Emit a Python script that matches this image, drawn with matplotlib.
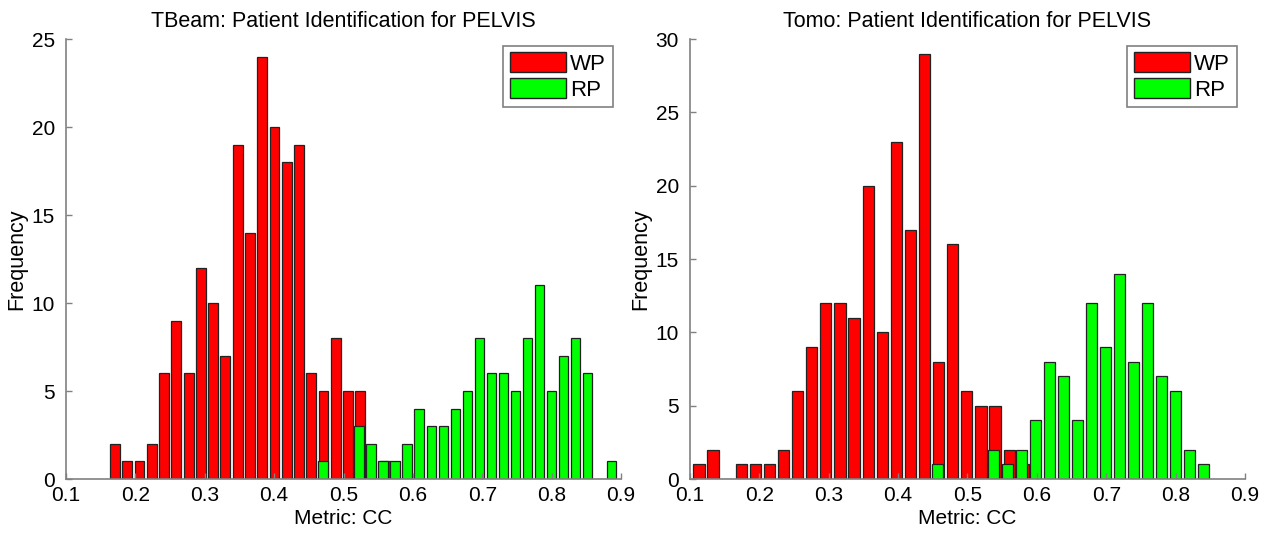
import matplotlib.pyplot as plt
from matplotlib.patches import Patch

plt.rcParams['font.family'] = ['Liberation Sans', 'DejaVu Sans']

# === 1. Histogram data ===

# TBeam
tb_wp_x = [0.1706, 0.1883, 0.2060, 0.2236, 0.2413, 0.2590, 0.2767, 0.2944,
           0.3120, 0.3297, 0.3474, 0.3651, 0.3828, 0.4004, 0.4181, 0.4358,
           0.4535, 0.4712, 0.4888, 0.5065, 0.5242, 0.5419, 0.5596]
tb_wp_n = [2, 1, 1, 2, 6, 9, 6, 12, 10, 7, 19, 14, 24, 20, 18, 19,
           6, 5, 8, 5, 5, 0, 1]
tb_rp_x = [0.4706, 0.4879, 0.5053, 0.5226, 0.5399, 0.5573, 0.5746, 0.5919,
           0.6092, 0.6266, 0.6439, 0.6612, 0.6786, 0.6959, 0.7132, 0.7306,
           0.7479, 0.7652, 0.7825, 0.7999, 0.8172, 0.8345, 0.8519, 0.8692,
           0.8865]
tb_rp_n = [1, 0, 0, 3, 2, 1, 1, 2, 4, 3, 3, 4, 5, 8, 6, 6,
           5, 8, 11, 5, 7, 8, 6, 0, 1]

# Tomo
to_wp_x = [0.1128, 0.1331, 0.1535, 0.1738, 0.1941, 0.2145, 0.2348, 0.2551,
           0.2754, 0.2958, 0.3161, 0.3364, 0.3568, 0.3771, 0.3974, 0.4178,
           0.4381, 0.4584, 0.4787, 0.4991, 0.5194, 0.5397, 0.5601, 0.5804]
to_wp_n = [1, 2, 0, 1, 1, 1, 2, 6, 9, 12, 12, 11, 20, 10, 23, 17,
           29, 8, 16, 6, 5, 5, 2, 1]
to_rp_x = [0.4569, 0.4771, 0.4973, 0.5174, 0.5376, 0.5578, 0.5780, 0.5982,
           0.6183, 0.6385, 0.6587, 0.6789, 0.6991, 0.7192, 0.7394, 0.7596,
           0.7798, 0.8000, 0.8201, 0.8403]
to_rp_n = [1, 0, 0, 0, 2, 1, 2, 4, 8, 7, 4, 12, 9, 14, 8, 12,
           7, 6, 2, 1]

panels = [
    ("TBeam: Patient Identification for PELVIS", tb_wp_x, tb_wp_n, tb_rp_x, tb_rp_n, 25),
    ("Tomo: Patient Identification for PELVIS", to_wp_x, to_wp_n, to_rp_x, to_rp_n, 30),
]

# === 2. Plotting ===
fig = plt.figure(figsize=(12.7, 5.33), dpi=100)
axes_pos = [[0.052, 0.1013, 0.437, 0.8255], [0.5433, 0.1013, 0.437, 0.8255]]

for pos, (title, wx, wn, rx, rn, ymax) in zip(axes_pos, panels):
    ax = fig.add_axes(pos)
    w_wp = 0.8 * (wx[1] - wx[0])
    w_rp = 0.8 * (rx[1] - rx[0])
    ax.bar(wx, wn, width=w_wp, color='#ff0000', edgecolor='#222222', linewidth=0.9)
    ax.bar(rx, rn, width=w_rp, color='#00ff00', edgecolor='#222222', linewidth=0.9)

    ax.set_xlim(0.1, 0.9)
    ax.set_ylim(0, ymax)
    ax.set_xticks([0.1, 0.2, 0.3, 0.4, 0.5, 0.6, 0.7, 0.8, 0.9])
    ax.set_xticklabels(['0.1', '0.2', '0.3', '0.4', '0.5', '0.6', '0.7', '0.8', '0.9'])
    ax.set_yticks(range(0, ymax + 1, 5))

    for s in ['top', 'right']:
        ax.spines[s].set_visible(False)
    for s in ['left', 'bottom']:
        ax.spines[s].set_color('#808080')
        ax.spines[s].set_linewidth(1.2)
    ax.tick_params(direction='in', length=4, width=1, color='#808080',
                   labelsize=15)
    ax.tick_params(axis='y', pad=8)
    ax.tick_params(axis='x', pad=5)

    ax.set_title(title, fontsize=15.5, pad=9)
    ax.set_xlabel("Metric: CC", fontsize=15, labelpad=3)
    ax.set_ylabel("Frequency", fontsize=15.5, labelpad=3)

    handles = [Patch(facecolor='#ff0000', edgecolor='#222222', label='WP'),
               Patch(facecolor='#00ff00', edgecolor='#222222', label='RP')]
    leg = ax.legend(handles=handles, loc='upper right', bbox_to_anchor=(0.985, 0.985),
                    fontsize=16, handlelength=2.5, handleheight=1.0,
                    handletextpad=0.2, borderpad=0.3, labelspacing=0.15,
                    fancybox=False, framealpha=1, borderaxespad=0)
    leg.get_frame().set_edgecolor('#808080')
    leg.get_frame().set_linewidth(1.2)

fig.savefig("out.png", dpi=100)
